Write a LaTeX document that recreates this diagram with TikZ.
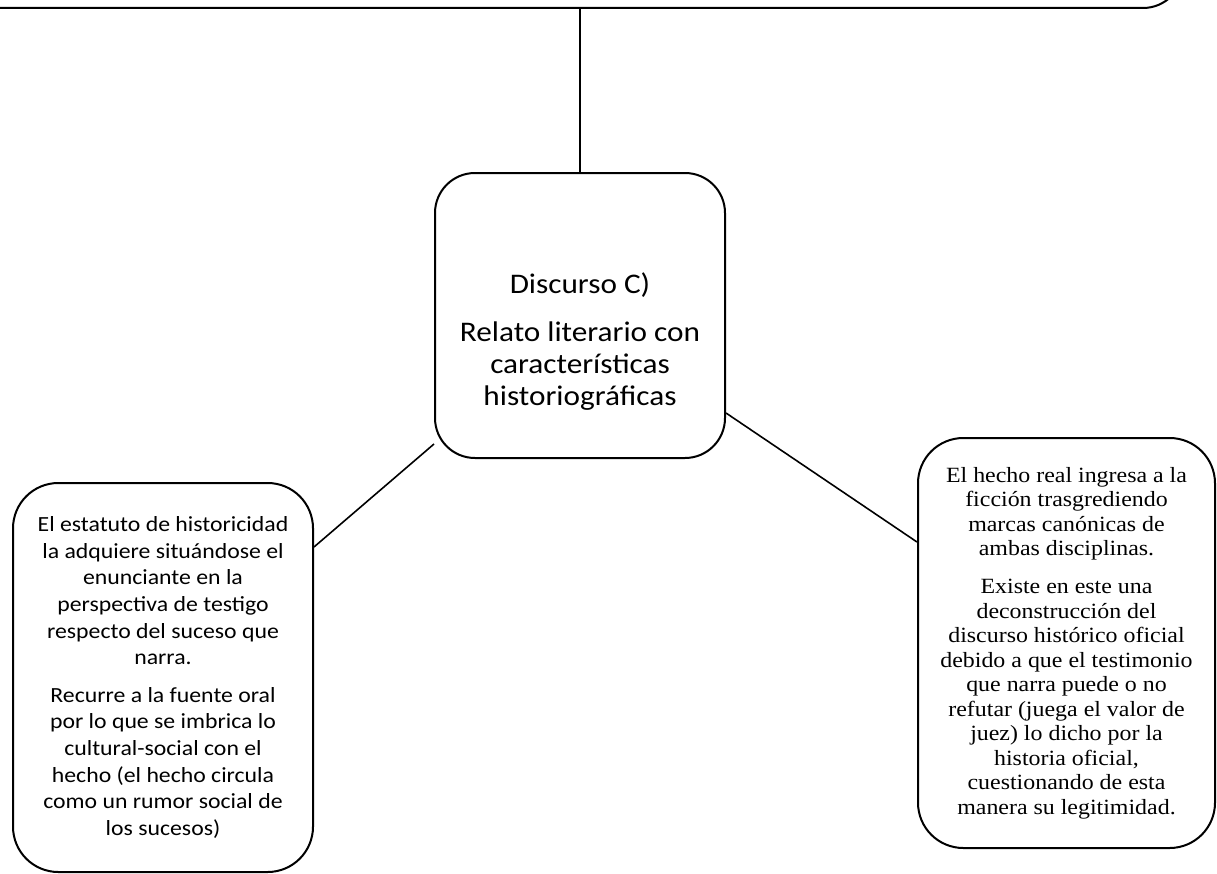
\documentclass[tikz,border=0pt]{standalone}
\usepackage{fontspec}
\newfontfamily\calib[FakeStretch=1.1]{Carlito}
\newfontfamily\tnr[FakeStretch=1.1]{Liberation Serif}
\begin{document}
\begin{tikzpicture}[x=0.75pt,y=-0.75pt,
  box/.style={draw=black,line width=1.5pt,rounded corners=30pt,fill=white,inner sep=0pt},
  conn/.style={draw=black,line width=1.2pt},
  lefttext/.style={align=center,font={\fontsize{16.2}{20}\selectfont\calib}},
  righttext/.style={align=center,font={\fontsize{16.3}{18.4}\selectfont\tnr}},
  midtext/.style={align=center,font={\fontsize{21.3}{24}\selectfont\calib}}]
\useasboundingbox (0,0) rectangle (1217,874);
% top box (mostly off the page)
\node[box,minimum width=1223*0.75pt,minimum height=108*0.75pt] (top) at (571.5,-46) {};
% centre box
\node[box,minimum width=290*0.75pt,minimum height=285*0.75pt] (mid) at (580,315.5) {};
\node[midtext] (midlabel) at (580,342) {Discurso C)\\[12pt]Relato literario con\\características\\historiográficas};
% left box
\node[box,rounded corners=34pt,minimum width=300*0.75pt,minimum height=389*0.75pt,lefttext] (lb) at (163,677.5)
 {El estatuto de historicidad\\la adquiere situándose el\\enunciante en la\\perspectiva de testigo\\respecto del suceso que\\narra.\\[8pt]Recurre a la fuente oral\\por lo que se imbrica lo\\cultural-social con el\\hecho (el hecho circula\\como un rumor social de\\los sucesos)};
% right box
\node[box,rounded corners=34pt,minimum width=297*0.75pt,minimum height=410*0.75pt,righttext] (rb) at (1066.5,643)
 {El hecho real ingresa a la\\ficción trasgrediendo\\marcas canónicas de\\ambas disciplinas.\\[10pt]Existe en este una\\deconstrucción del\\discurso histórico oficial\\debido a que el testimonio\\que narra puede o no\\refutar (juega el valor de\\juez) lo dicho por la\\historia oficial,\\cuestionando de esta\\manera su legitimidad.};
% connectors
\draw[conn] (mid.north) -- (mid.north |- top.south);
\draw[conn] ([yshift=11.25pt]mid.south west) -- ([yshift=-48.75pt]lb.north east);
\draw[conn] ([yshift=34.5pt]mid.south east) -- ([yshift=-78.75pt]rb.north west);
\end{tikzpicture}
\end{document}
